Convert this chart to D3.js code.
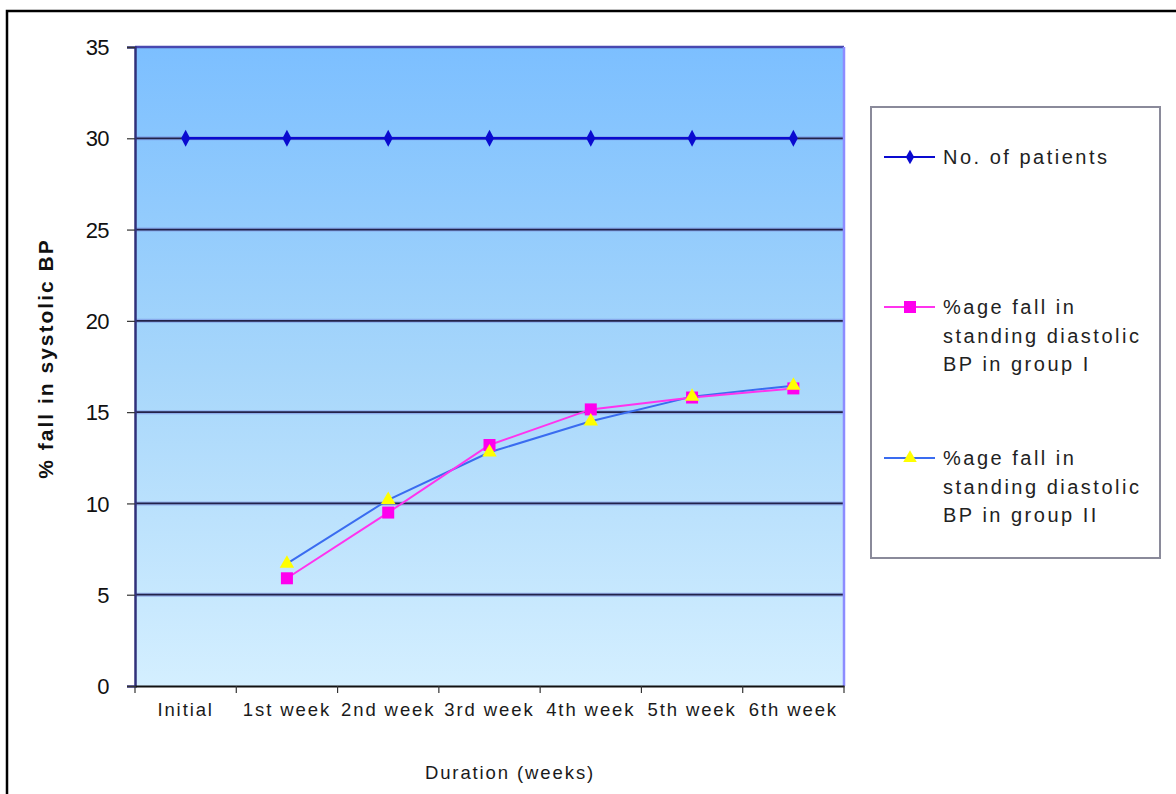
<!DOCTYPE html>
<html>
<head>
<meta charset="utf-8">
<script src="https://cdnjs.cloudflare.com/ajax/libs/d3/7.8.5/d3.min.js"></script>
<style>
  html, body { margin: 0; padding: 0; background: #fff; }
  svg { display: block; }
  text { font-family: "Liberation Sans", Arial, sans-serif; }
</style>
</head>
<body>
<svg id="chart" width="1176" height="794"></svg>
<script>
// Categories along the duration axis
const categories = ["Initial", "1st week", "2nd week", "3rd week", "4th week", "5th week", "6th week"];
// Series values (null = no reading)
const patients = [30, 30, 30, 30, 30, 30, 30];
const groupI   = [null, 5.9, 9.5, 13.2, 15.15, 15.8, 16.3];
const groupII  = [null, 6.7, 10.2, 12.8, 14.5, 15.85, 16.45];
const yTicks   = [0, 5, 10, 15, 20, 25, 30, 35];
const seriesNames = [
  ["No. of patients"],
  ["%age fall in", "standing diastolic", "BP in group I"],
  ["%age fall in", "standing diastolic", "BP in group II"]
];

const svg = d3.select("#chart");

// Outer frame
svg.append("rect").attr("x", 7).attr("y", 11).attr("width", 1200).attr("height", 800)
  .attr("fill", "none").attr("stroke", "#000").attr("stroke-width", 2.5);

const plot = { left: 135, top: 47, right: 844, bottom: 686 };

const x = d3.scaleBand().domain(categories).range([plot.left, plot.right]).padding(0);
const y = d3.scaleLinear().domain([0, 35]).range([plot.bottom, plot.top]);

// Gradient background
const defs = svg.append("defs");
const grad = defs.append("linearGradient").attr("id", "bg").attr("x1", 0).attr("y1", 0).attr("x2", 0).attr("y2", 1);
grad.append("stop").attr("offset", "0%").attr("stop-color", "#7cbfff");
grad.append("stop").attr("offset", "50%").attr("stop-color", "#a6d6fb");
grad.append("stop").attr("offset", "100%").attr("stop-color", "#d4efff");

svg.append("rect")
  .attr("x", plot.left).attr("y", plot.top)
  .attr("width", plot.right - plot.left).attr("height", plot.bottom - plot.top)
  .attr("fill", "url(#bg)");

// Gridlines
const grid = svg.append("g");
yTicks.filter(v => v > 0 && v < 35).forEach(v => {
  grid.append("line")
    .attr("x1", plot.left).attr("x2", plot.right)
    .attr("y1", y(v)).attr("y2", y(v))
    .attr("stroke", "#7a8fe0").attr("stroke-width", 4).attr("opacity", 0.6);
  grid.append("line")
    .attr("x1", plot.left).attr("x2", plot.right)
    .attr("y1", y(v)).attr("y2", y(v))
    .attr("stroke", "#22224a").attr("stroke-width", 1.8);
});

// Plot frame: top and right edges
svg.append("line").attr("x1", plot.left).attr("x2", plot.right).attr("y1", plot.top).attr("y2", plot.top)
  .attr("stroke", "#4848b0").attr("stroke-width", 2.5);
svg.append("line").attr("x1", plot.right).attr("x2", plot.right).attr("y1", plot.top).attr("y2", plot.bottom)
  .attr("stroke", "#8c8cff").attr("stroke-width", 2.5);

// Y axis
const yAxis = d3.axisLeft(y).tickValues(yTicks).tickSize(8).tickPadding(18);
const gy = svg.append("g").attr("transform", `translate(${plot.left},0)`).call(yAxis);
gy.select(".domain").attr("stroke", "#30307a").attr("stroke-width", 2.5);
gy.selectAll(".tick line").attr("stroke", "#333").attr("stroke-width", 1.2);
gy.selectAll(".tick text").attr("font-size", 22).attr("fill", "#111")
  .attr("letter-spacing", -0.6).attr("dy", "0.35em");

// X axis: ticks on category boundaries
const xAxis = d3.axisBottom(x).tickSize(0).tickPadding(17);
const gx = svg.append("g").attr("transform", `translate(0,${plot.bottom})`).call(xAxis);
gx.select(".domain").attr("stroke", "#111").attr("stroke-width", 2);
gx.selectAll(".tick text").attr("font-size", 18.5).attr("fill", "#1a1a1a").attr("letter-spacing", 1.9);
const boundaries = categories.map(c => x(c)).concat([plot.right]);
gx.selectAll(".bound").data(boundaries).enter().append("line")
  .attr("x1", d => d).attr("x2", d => d).attr("y1", 0).attr("y2", 7)
  .attr("stroke", "#333").attr("stroke-width", 1.2);

// Axis titles
svg.append("text")
  .attr("transform", `translate(53,${(plot.top + plot.bottom) / 2 - 8}) rotate(-90)`)
  .attr("text-anchor", "middle").attr("font-size", 21).attr("font-weight", "bold").attr("fill", "#111")
  .attr("letter-spacing", 2)
  .text("% fall in systolic  BP");
svg.append("text")
  .attr("x", 510).attr("y", 779).attr("text-anchor", "middle")
  .attr("font-size", 18.5).attr("fill", "#1a1a1a").attr("letter-spacing", 1.9)
  .text("Duration (weeks)");

const cx = c => x(c) + x.bandwidth() / 2;

function drawSeries(values, color, width) {
  const pts = values.map((v, i) => ({ c: categories[i], v })).filter(d => d.v !== null);
  const line = d3.line().x(d => cx(d.c)).y(d => y(d.v));
  svg.append("path").datum(pts).attr("d", line)
    .attr("fill", "none").attr("stroke", color).attr("stroke-width", width);
  return pts;
}

// Patients line with diamonds
const pPts = drawSeries(patients, "#0a0ad0", 2.5);
svg.append("g").selectAll("path").data(pPts).enter().append("path")
  .attr("d", d3.symbol().type(d3.symbolDiamond).size(70))
  .attr("transform", d => `translate(${cx(d.c)},${y(d.v)}) scale(1,1.1)`)
  .attr("fill", "#0a0ad0");

// Group I (magenta squares) and Group II (yellow triangles)
const g2Pts = drawSeries(groupII, "#3a6cf0", 2);
const g1Pts = drawSeries(groupI, "#ff33ee", 2);
svg.append("g").selectAll("rect").data(g1Pts).enter().append("rect")
  .attr("x", d => cx(d.c) - 6).attr("y", d => y(d.v) - 6)
  .attr("width", 12).attr("height", 12).attr("fill", "#ff00ee");
svg.append("g").selectAll("path").data(g2Pts).enter().append("path")
  .attr("d", d3.symbol().type(d3.symbolTriangle).size(90))
  .attr("transform", d => `translate(${cx(d.c)},${y(d.v)})`)
  .attr("fill", "#ffff00");

// Legend
const lg = svg.append("g");
lg.append("rect").attr("x", 871).attr("y", 107).attr("width", 289).attr("height", 451)
  .attr("fill", "#fff").attr("stroke", "#8a8a9a").attr("stroke-width", 2);

const legendItems = [
  { y: 157, color: "#0a0ad0", marker: "diamond" },
  { y: 307, color: "#ff33ee", marker: "square" },
  { y: 458, color: "#3a6cf0", marker: "triangle" }
];
legendItems.forEach((it, i) => {
  lg.append("line").attr("x1", 884).attr("x2", 935).attr("y1", it.y).attr("y2", it.y)
    .attr("stroke", it.color).attr("stroke-width", 2);
  if (it.marker === "diamond") {
    lg.append("path").attr("d", d3.symbol().type(d3.symbolDiamond).size(60))
      .attr("transform", `translate(910,${it.y})`).attr("fill", "#0a0ad0");
  } else if (it.marker === "square") {
    lg.append("rect").attr("x", 904).attr("y", it.y - 6).attr("width", 12).attr("height", 12).attr("fill", "#ff00ee");
  } else {
    lg.append("path").attr("d", d3.symbol().type(d3.symbolTriangle).size(80))
      .attr("transform", `translate(910,${it.y})`).attr("fill", "#ffff00");
  }
  seriesNames[i].forEach((t, j) => {
    lg.append("text").attr("x", 943).attr("y", it.y + 7 + j * 28.5)
      .attr("font-size", 20).attr("fill", "#222").attr("letter-spacing", 2.5)
      .text(t);
  });
});
</script>
</body>
</html>
